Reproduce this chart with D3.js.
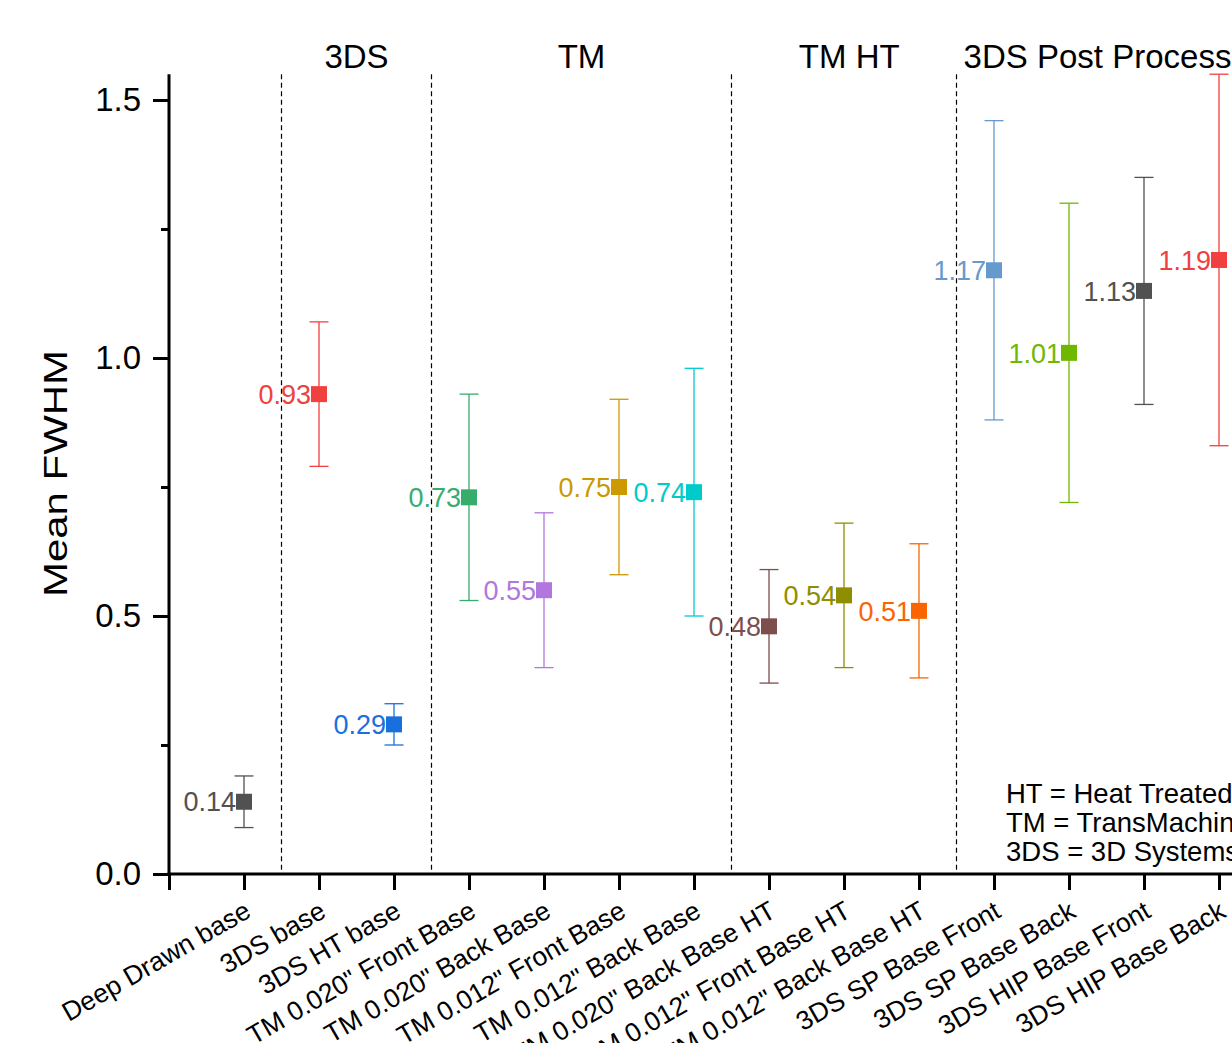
<!DOCTYPE html>
<html>
<head>
<meta charset="utf-8">
<style>
  body { margin: 0; background: #fff; }
  svg { display: block; font-family: "Liberation Sans", Arial, sans-serif; }
</style>
<script src="https://d3js.org/d3.v7.min.js"></script>
</head>
<body>
<div id="chart"></div>
<script>
// data
const categories = ["Deep Drawn base", "3DS base", "3DS HT base", "TM 0.020\" Front Base",
  "TM 0.020\" Back Base", "TM 0.012\" Front Base", "TM 0.012\" Back Base",
  "TM 0.020\" Back Base HT", "TM 0.012\" Front Base HT", "TM 0.012\" Back Base HT",
  "3DS SP Base Front", "3DS SP Base Back", "3DS HIP Base Front", "3DS HIP Base Back"];
const means = [0.14, 0.93, 0.29, 0.73, 0.55, 0.75, 0.74, 0.48, 0.54, 0.51, 1.17, 1.01, 1.13, 1.19];
const lower = [0.09, 0.79, 0.25, 0.53, 0.40, 0.58, 0.50, 0.37, 0.40, 0.38, 0.88, 0.72, 0.91, 0.83];
const upper = [0.19, 1.07, 0.33, 0.93, 0.70, 0.92, 0.98, 0.59, 0.68, 0.64, 1.46, 1.30, 1.35, 1.55];
const palette = ["#515151", "#F14040", "#1A6FDF", "#37AD6B", "#B177DE", "#CC9900",
  "#00CBCC", "#7D4E4E", "#8E8E00", "#FB6501", "#6699CC", "#6FB802"];

const groupNames = ["3DS", "TM", "TM HT", "3DS Post Process"];
const groupPos = [2.5, 5.5, 9.07, 12.38];
const separators = [1.5, 3.5, 7.5, 10.5];
const yMajor = [0, 0.5, 1.0, 1.5];
const yMinor = [0.25, 0.75, 1.25];
const notes = ["HT = Heat Treated", "TM = TransMachining", "3DS = 3D Systems"];

const W = 1232, H = 1043;
const x = d3.scaleLinear().domain([0, 14]).range([169, 1219]);
const y = d3.scaleLinear().domain([0, 1.55]).range([874, 874 - 1.55 * 516]);

const svg = d3.select("#chart").append("svg")
  .attr("width", W).attr("height", H);

// dashed group separators
svg.append("g").selectAll("line")
  .data(separators)
  .join("line")
  .attr("x1", d => x(d)).attr("x2", d => x(d))
  .attr("y1", y(1.55)).attr("y2", y(0))
  .attr("stroke", "#000").attr("stroke-width", 1.2)
  .attr("stroke-dasharray", "5,3.5");

// group titles
svg.append("g").selectAll("text")
  .data(groupNames)
  .join("text")
  .attr("x", (d, i) => x(groupPos[i]))
  .attr("y", 68)
  .attr("text-anchor", "middle")
  .attr("font-size", 33)
  .text(d => d);

// y axis
const yAxis = svg.append("g")
  .attr("transform", `translate(${x(0)},0)`)
  .call(d3.axisLeft(y).tickValues(yMajor).tickFormat(d3.format(".1f"))
    .tickSize(16).tickPadding(12));
yAxis.select(".domain").attr("stroke-width", 3).attr("d", `M0,${y(0)}V${y(1.55)}`);
yAxis.selectAll(".tick line").attr("stroke-width", 3);
yAxis.selectAll(".tick text").attr("font-size", 33).attr("font-family", "Liberation Sans, Arial, sans-serif").attr("fill", "#000");

const yMinorAxis = svg.append("g")
  .attr("transform", `translate(${x(0)},0)`)
  .call(d3.axisLeft(y).tickValues(yMinor).tickFormat("").tickSize(8));
yMinorAxis.select(".domain").remove();
yMinorAxis.selectAll(".tick line").attr("stroke-width", 3);

// x axis
const xAxis = svg.append("g")
  .attr("transform", `translate(0,${y(0)})`)
  .call(d3.axisBottom(x).tickValues(d3.range(0, 15))
    .tickFormat(i => i === 0 ? "" : categories[i - 1]).tickSize(16));
xAxis.select(".domain").attr("stroke-width", 3).attr("d", `M${x(0) - 1.5},0H${x(14.6)}`);
xAxis.selectAll(".tick line").attr("stroke-width", 3);
xAxis.selectAll(".tick text")
  .attr("font-size", 26.5)
  .attr("font-family", "Liberation Sans, Arial, sans-serif")
  .attr("fill", "#000")
  .attr("text-anchor", "end")
  .attr("x", 0).attr("y", 0).attr("dy", 0)
  .attr("transform", "translate(8,42) rotate(-30)");

// y axis title
svg.append("text")
  .attr("transform", `translate(67,${(350 + 597) / 2}) rotate(-90)`)
  .attr("text-anchor", "middle")
  .attr("font-size", 33)
  .attr("textLength", 247)
  .attr("lengthAdjust", "spacingAndGlyphs")
  .text("Mean FWHM");

// error bars, markers, labels
const pts = means.map((m, i) => ({ i: i + 1, m, lo: lower[i], hi: upper[i], c: palette[i % palette.length] }));
const g = svg.append("g").selectAll("g").data(pts).join("g");

g.append("line")
  .attr("x1", d => x(d.i)).attr("x2", d => x(d.i))
  .attr("y1", d => y(d.lo)).attr("y2", d => y(d.hi))
  .attr("stroke", d => d.c).attr("stroke-width", 1.3);
g.selectAll("line.cap")
  .data(d => [[d, d.lo], [d, d.hi]])
  .join("line")
  .attr("class", "cap")
  .attr("x1", d => x(d[0].i) - 9.5).attr("x2", d => x(d[0].i) + 9.5)
  .attr("y1", d => y(d[1])).attr("y2", d => y(d[1]))
  .attr("stroke", d => d[0].c).attr("stroke-width", 1.3);
g.append("rect")
  .attr("x", d => x(d.i) - 8).attr("y", d => y(d.m) - 8)
  .attr("width", 16).attr("height", 16)
  .attr("fill", d => d.c);
g.append("text")
  .attr("x", d => x(d.i) - 8).attr("y", d => y(d.m))
  .attr("dy", "0.36em")
  .attr("text-anchor", "end")
  .attr("font-size", 27)
  .attr("fill", d => d.c)
  .text(d => d3.format(".2f")(d.m));

// notes
svg.append("g").selectAll("text")
  .data(notes)
  .join("text")
  .attr("x", 1006)
  .attr("y", (d, i) => 803 + i * 29)
  .attr("font-size", 27.5)
  .text(d => d);
</script>
</body>
</html>
